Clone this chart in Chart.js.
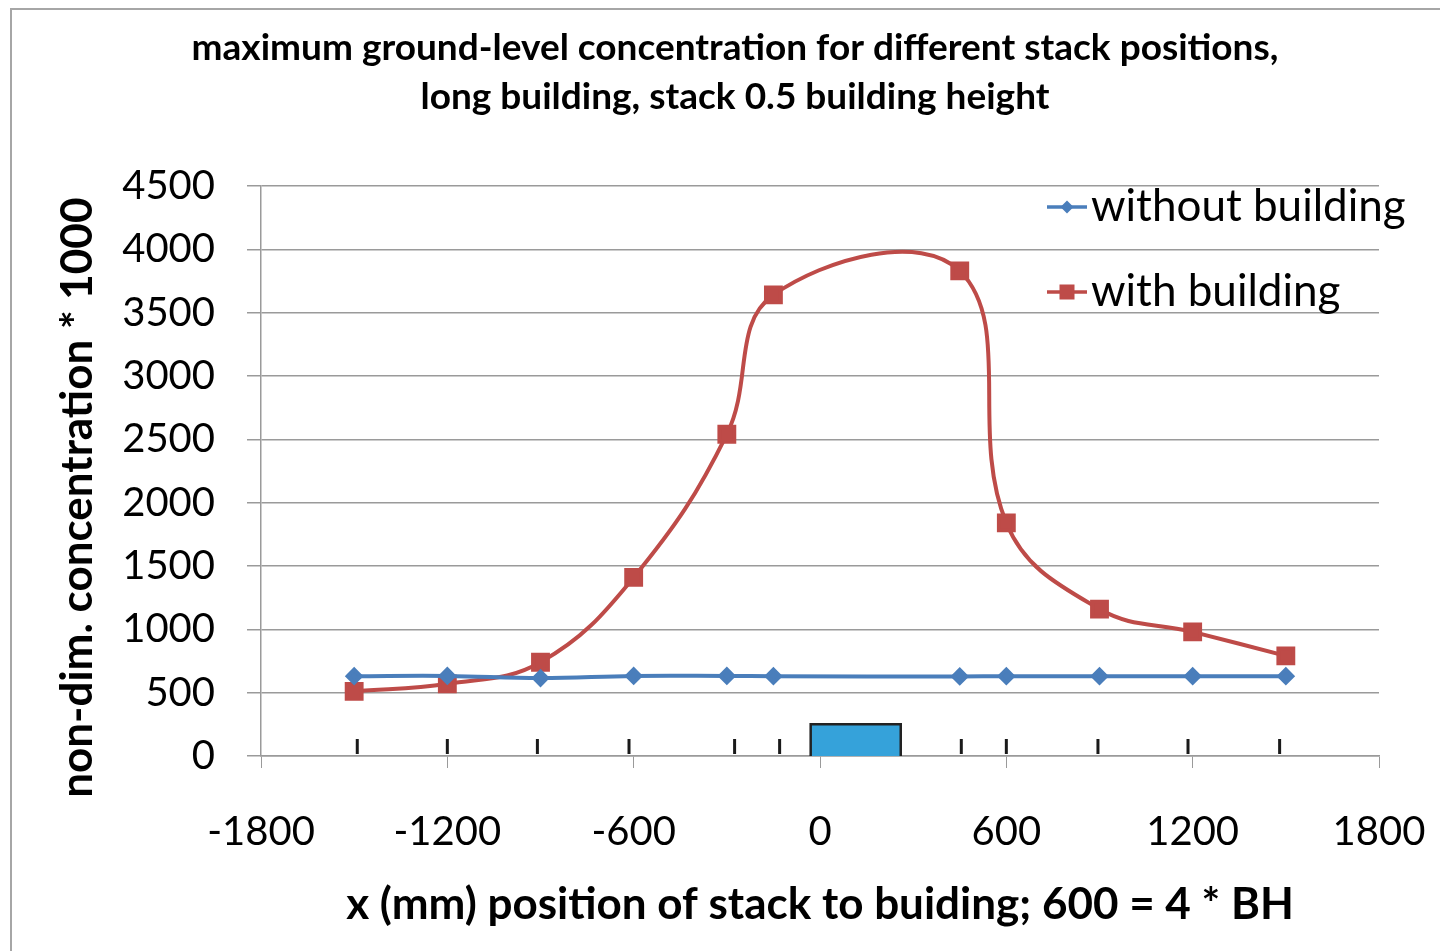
<!DOCTYPE html>
<html>
<head>
<meta charset="utf-8">
<script src="https://cdn.jsdelivr.net/npm/chart.js@4.4.1/dist/chart.umd.min.js"></script>
<style>
html, body { margin: 0; padding: 0; background: #fff; }
#frame { position: absolute; left: 10px; top: 8px; width: 1440px; height: 960px; border-left: 2px solid #a6a6a6; border-top: 2px solid #a6a6a6; }
#wrap { position: absolute; left: 0; top: 0; width: 1440px; height: 951px; }
</style>
</head>
<body>
<div id="frame"></div>
<div id="wrap"><canvas id="chart"></canvas></div>
<script>
// stack positions (mm) and measured concentrations
const positions = [-1500, -1200, -900, -600, -300, -150, 450, 600, 900, 1200, 1500];
const withoutBuilding = [630, 632, 615, 632, 632, 630, 628, 630, 630, 630, 630];
const withBuilding = [510, 570, 740, 1410, 2540, 3640, 3830, 1840, 1160, 980, 790];

// small marks on the ground line and the building outline
const stackMarks = [-1490, -1200, -910, -615, -275, -130, 455, 600, 895, 1185, 1480];
const stackMarkY = 75;
const buildingX = [-30, -30, 260, 260];
const buildingY = [0, 250, 250, 0];
const buildingBaseX = [-30, 260];
const buildingBaseY = [10, 10];

const xTicks = [-1800, -1200, -600, 0, 600, 1200, 1800];
const yTicks = [0, 500, 1000, 1500, 2000, 2500, 3000, 3500, 4000, 4500];

const blue = '#4a7ebb';
const red = '#be4b48';
const gridColor = '#9a9a9a';

Chart.defaults.font.family = 'Lato, sans-serif';
Chart.defaults.color = '#000';

function pts(xs, ys) {
    return xs.map((x, i) => ({x: x, y: ys[i]}));
}

function legendIcon(color, style) {
    const c = document.createElement('canvas');
    c.width = 80;
    c.height = 24;
    const g = c.getContext('2d');
    g.strokeStyle = color;
    g.lineWidth = 3.5;
    g.beginPath();
    g.moveTo(38, 12);
    g.lineTo(78, 12);
    g.stroke();
    g.fillStyle = color;
    if (style === 'diamond') {
        g.beginPath();
        g.moveTo(58, 5.5);
        g.lineTo(64.5, 12);
        g.lineTo(58, 18.5);
        g.lineTo(51.5, 12);
        g.closePath();
        g.fill();
    } else {
        g.fillRect(50.5, 4.5, 15, 15);
    }
    return c;
}
const icons = [legendIcon(blue, 'diamond'), legendIcon(red, 'square')];

// put the legend inside the plot, top right, like the original
const legendPlace = {
    id: 'legendPlace',
    afterLayout(chart) {
        const lg = chart.legend;
        if (!lg) return;
        const pad = lg.options.labels.padding;
        lg.left = 1029 - pad;
        lg.right = lg.left + lg.width;
        lg.top = 185 - pad;
        lg.bottom = lg.top + lg.height;
    }
};

new Chart(document.getElementById('chart'), {
    type: 'scatter',
    data: {
        datasets: [{
            label: 'without building',
            data: pts(positions, withoutBuilding),
            showLine: true,
            borderColor: blue,
            backgroundColor: blue,
            borderWidth: 4,
            tension: 0.4,
            pointStyle: 'rectRot',
            pointRadius: 6.5,
            pointHoverRadius: 6.5,
        }, {
            label: 'with building',
            data: pts(positions, withBuilding),
            showLine: true,
            borderColor: red,
            backgroundColor: red,
            borderWidth: 4,
            tension: 0.4,
            pointStyle: 'rect',
            pointRadius: 10.5,
            pointHoverRadius: 10.5,
        }, {
            label: 'stack',
            data: stackMarks.map(x => ({x: x, y: stackMarkY})),
            showLine: false,
            pointStyle: 'line',
            rotation: 90,
            pointRadius: 7.5,
            pointBorderWidth: 3,
            borderColor: '#1a1a1a',
            backgroundColor: '#1a1a1a',
        }, {
            label: 'building',
            data: pts(buildingX, buildingY),
            showLine: true,
            tension: 0,
            fill: 'origin',
            borderColor: '#222',
            borderWidth: 2.5,
            backgroundColor: '#35a2da',
            pointRadius: 0,
        }, {
            label: 'building base',
            data: pts(buildingBaseX, buildingBaseY),
            showLine: true,
            tension: 0,
            borderColor: '#222',
            borderWidth: 2.5,
            pointRadius: 0,
        }]
    },
    options: {
        responsive: true,
        maintainAspectRatio: false,
        animation: false,
        layout: {padding: {left: 30, right: 0, top: 0, bottom: 0}},
        plugins: {
            title: {
                display: true,
                text: ['maximum ground-level concentration for different stack positions,',
                       'long building, stack 0.5 building height'],
                color: '#000',
                font: {size: 37, weight: 'bold', lineHeight: 49 / 37},
                padding: {top: 23.5, bottom: 64.5},
            },
            legend: {
                display: true,
                position: 'chartArea',
                align: 'start',
                labels: {
                    usePointStyle: true,
                    pointStyleWidth: 40,
                    padding: 41,
                    color: '#000',
                    font: {size: 44},
                    filter: item => item.datasetIndex < 2,
                    generateLabels(chart) {
                        const items = Chart.defaults.plugins.legend.labels.generateLabels(chart);
                        items.forEach(it => {
                            if (it.datasetIndex < 2) it.pointStyle = icons[it.datasetIndex];
                        });
                        return items;
                    }
                }
            },
            tooltip: {enabled: false},
        },
        scales: {
            x: {
                type: 'linear',
                min: -1800,
                max: 1800,
                afterBuildTicks: s => { s.ticks = xTicks.map(v => ({value: v})); },
                afterFit: s => { s.height = 195; s.paddingRight = 61; s.paddingLeft = 0; },
                grid: {drawOnChartArea: false, drawTicks: true, tickLength: 12, color: gridColor},
                border: {color: gridColor, width: 1.5},
                ticks: {padding: 40, font: {size: 40}, color: '#000', maxRotation: 0, callback: v => String(v)},
                title: {
                    display: true,
                    text: 'x (mm) position of stack to buiding; 600 = 4 * BH',
                    font: {size: 44, weight: 'bold', lineHeight: 1.2},
                    padding: {top: 0, bottom: 19.6},
                    color: '#000',
                }
            },
            y: {
                type: 'linear',
                min: 0,
                max: 4500,
                afterBuildTicks: s => { s.ticks = yTicks.map(v => ({value: v})); },
                afterFit: s => { s.width = 231; },
                grid: {color: gridColor, lineWidth: 1.5, tickLength: 14},
                border: {color: gridColor, width: 1.5},
                ticks: {padding: 32, font: {size: 40}, color: '#000', callback: v => String(v)},
                title: {
                    display: true,
                    text: 'non-dim. concentration * 1000     ',
                    font: {size: 44, weight: 'bold', lineHeight: 1.2},
                    padding: {top: 21.6, bottom: 0},
                    color: '#000',
                }
            }
        }
    },
    plugins: [legendPlace]
});
</script>
</body>
</html>
